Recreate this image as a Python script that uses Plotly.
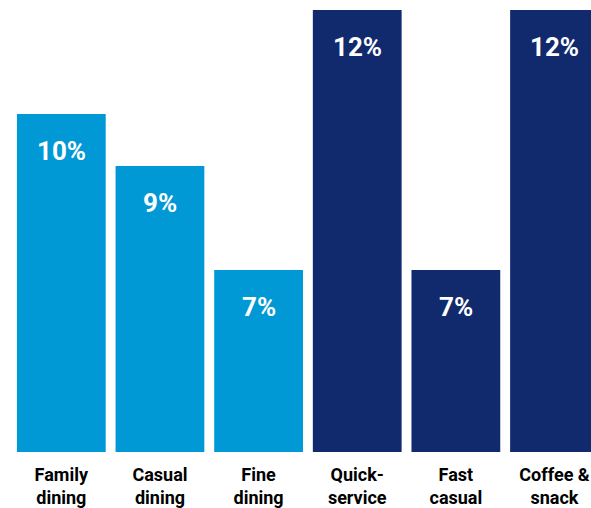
import plotly.graph_objects as go

categories = ["Family dining", "Casual dining", "Fine dining", "Quick-service", "Fast casual", "Coffee & snack"]
tick_labels = ["Family<br>dining", "Casual<br>dining", "Fine<br>dining", "Quick-<br>service", "Fast<br>casual", "Coffee &<br>snack"]
values = [10, 9, 7, 12, 7, 12]
value_labels = ["10%", "9%", "7%", "12%", "7%", "12%"]
segment = ["full", "full", "full", "limited", "limited", "limited"]

LIGHT = "#0099D5"
NAVY = "#112A6E"
colors = [LIGHT if s == "full" else NAVY for s in segment]
FONT = "Roboto"

fig = go.Figure()
fig.add_trace(go.Bar(
    x=categories, y=values, marker=dict(color=colors, line=dict(width=0)),
    hoverinfo="skip",
))

for c, v, t in zip(categories, values, value_labels):
    fig.add_annotation(x=c, y=v, text=t, showarrow=False, yanchor="middle",
                       yshift=-37, font=dict(family=FONT, size=26, color="white", weight="bold"))

fig.update_layout(
    width=591, height=508,
    margin=dict(l=12, r=0, t=0, b=56),
    paper_bgcolor="white", plot_bgcolor="white",
    bargap=0.1, showlegend=False,
    xaxis=dict(tickmode="array", tickvals=categories, ticktext=tick_labels,
               range=[-0.5, 5.37], showgrid=False, zeroline=False, showline=False,
               ticks="", ticklabelstandoff=10,
               tickfont=dict(family=FONT, size=18, color="black", weight="bold")),
    yaxis=dict(range=[3.5, 12.19], visible=False, showgrid=False, zeroline=False),
)

fig.write_html("out.html", config={"displayModeBar": False},
               post_script="document.body.style.margin='0';document.body.style.overflow='hidden';")
